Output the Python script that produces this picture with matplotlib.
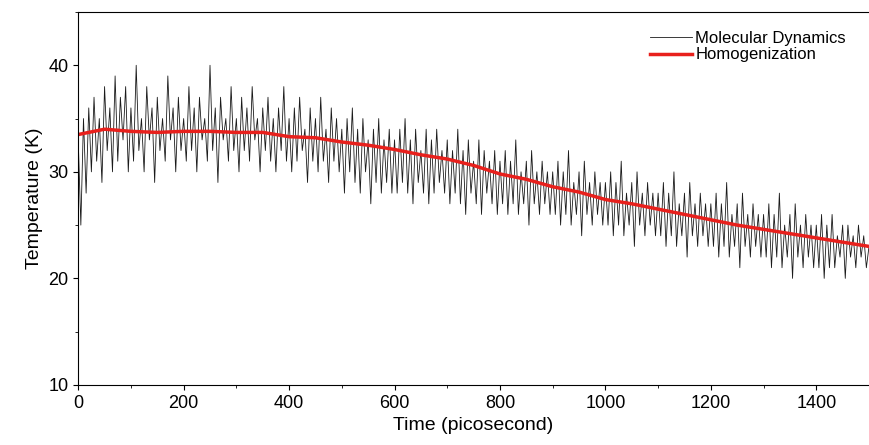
import numpy as np
import matplotlib.pyplot as plt
from matplotlib.ticker import MultipleLocator

plt.rcParams['font.family'] = ['Liberation Sans', 'DejaVu Sans']

md_temp = [
    33, 25, 35, 28, 36, 30, 37, 31, 35, 29, 38, 32, 36, 30, 39, 31, 37, 33, 38, 30,
    36, 31, 40, 32, 35, 30, 38, 33, 36, 29, 37, 32, 35, 31, 39, 33, 36, 30, 37, 32,
    35, 31, 38, 32, 36, 30, 37, 33, 35, 31, 40, 32, 36, 29, 37, 33, 35, 31, 38, 32,
    35, 30, 37, 32, 36, 31, 38, 33, 35, 30, 36, 32, 37, 31, 35, 30, 36, 32, 38, 31,
    35, 30, 36, 31, 37, 32, 34, 29, 36, 31, 35, 30, 37, 31, 34, 29, 36, 31, 35, 30,
    34, 28, 35, 30, 36, 29, 34, 28, 35, 30, 33, 27, 34, 29, 35, 28, 33, 29, 34, 28,
    33, 28, 34, 29, 35, 28, 33, 27, 34, 29, 32, 28, 34, 27, 33, 28, 34, 29, 32, 28,
    33, 27, 32, 28, 34, 27, 32, 26, 33, 28, 31, 27, 33, 26, 32, 28, 31, 27, 32, 26,
    31, 27, 32, 26, 31, 27, 33, 26, 30, 27, 31, 25, 32, 27, 30, 26, 31, 27, 30, 26,
    30, 26, 31, 25, 30, 26, 32, 25, 29, 26, 30, 24, 31, 26, 29, 25, 30, 26, 29, 25,
    29, 25, 30, 24, 29, 25, 31, 24, 28, 25, 29, 23, 30, 25, 28, 24, 29, 25, 28, 24,
    28, 24, 29, 23, 28, 24, 30, 23, 27, 24, 28, 22, 29, 24, 27, 23, 28, 24, 27, 23,
    27, 23, 28, 22, 27, 23, 29, 22, 26, 23, 27, 21, 28, 23, 26, 22, 27, 23, 26, 22,
    26, 22, 27, 21, 26, 22, 28, 21, 25, 22, 26, 20, 27, 22, 25, 21, 26, 22, 25, 21,
    25, 21, 26, 20, 25, 21, 26, 21, 24, 22, 25, 20, 25, 22, 24, 21, 25, 22, 24, 21,
    23,
]
md_time = np.arange(0, 1505, 5)

# homogenization result every 50 ps
hom_time = np.arange(0, 1550, 50)
hom_temp = [33.5, 34.0, 33.8, 33.7, 33.8, 33.8, 33.7, 33.7, 33.3, 33.2, 32.8,
            32.5, 32.1, 31.6, 31.2, 30.6, 29.8, 29.3, 28.6, 28.1, 27.4, 27.0,
            26.5, 26.0, 25.5, 25.0, 24.6, 24.2, 23.8, 23.4, 23.0]

fig = plt.figure(figsize=(8.69, 4.45), dpi=100)
ax = fig.add_axes([0.09, 0.135, 0.91, 0.838])

ax.plot(md_time, md_temp, color='#1a1a1a', linewidth=0.6, label='Molecular Dynamics')
ax.plot(hom_time, hom_temp, color='#e8201c', linewidth=2.5, label='Homogenization')

ax.set_xlim(0, 1500)
ax.set_ylim(10, 45)
ax.xaxis.set_major_locator(MultipleLocator(200))
ax.xaxis.set_minor_locator(MultipleLocator(100))
ax.yaxis.set_major_locator(MultipleLocator(10))
ax.yaxis.set_minor_locator(MultipleLocator(5))
ax.tick_params(labelsize=13)
ax.spines['right'].set_visible(False)
ax.set_xlabel('Time (picosecond)', fontsize=14)
ax.set_ylabel('Temperature (K)', fontsize=14)
ax.legend(loc='upper right', frameon=False, fontsize=12, handlelength=2.5,
          handletextpad=0.2, labelspacing=0.1, bbox_to_anchor=(0.99, 0.99))

fig.savefig('out.png')
